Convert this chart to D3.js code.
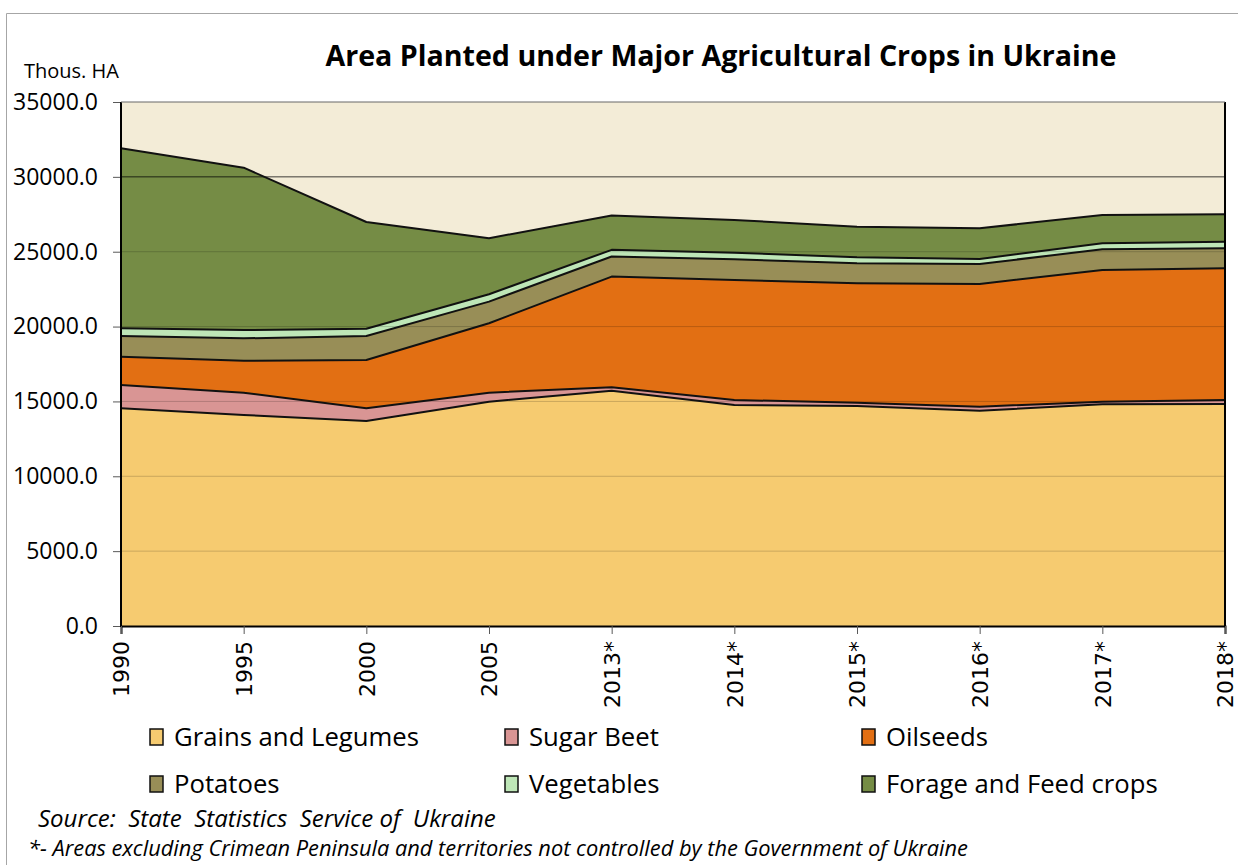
<!DOCTYPE html>
<html>
<head>
<meta charset="utf-8">
<script src="https://cdn.jsdelivr.net/npm/d3@7"></script>
<style>
  body { margin: 0; background: #fff; }
  svg { display: block; }
</style>
</head>
<body>
<div id="my_dataviz"></div>
<script>
// data (thous. ha)
const years = ["1990", "1995", "2000", "2005", "2013*", "2014*", "2015*", "2016*", "2017*", "2018*"];
const seriesNames = ["Grains and Legumes", "Sugar Beet", "Oilseeds", "Potatoes", "Vegetables", "Forage and Feed crops"];
const grains     = [14540, 14095, 13690, 14985, 15720, 14760, 14695, 14380, 14810, 14830];
const sugarBeet  = [1560, 1490, 850, 600, 230, 335, 220, 270, 175, 265];
const oilseeds   = [1890, 2135, 3230, 4635, 7390, 8015, 7975, 8195, 8795, 8800];
const potatoes   = [1380, 1495, 1600, 1445, 1340, 1380, 1335, 1335, 1385, 1335];
const vegetables = [515, 555, 490, 495, 445, 445, 400, 335, 400, 440];
const forage     = [12025, 10845, 7125, 3740, 2295, 2185, 2045, 2050, 1890, 1830];
const yTicks = [0, 5000, 10000, 15000, 20000, 25000, 30000, 35000];
const colors = ["#F6CB70", "#D99594", "#E26F13", "#988E57", "#BEE6B7", "#758C45"];

const drawChart = () => {
  const width = 1238, height = 865;
  const margin = { top: 102, right: 13, bottom: 239, left: 121 };
  const innerW = width - margin.left - margin.right;
  const innerH = height - margin.top - margin.bottom;

  const allSeries = [grains, sugarBeet, oilseeds, potatoes, vegetables, forage];
  const table = years.map((y, i) => {
    const row = { year: y };
    seriesNames.forEach((name, k) => { row[name] = allSeries[k][i]; });
    return row;
  });

  const svg = d3.select("#my_dataviz").append("svg")
    .attr("width", width).attr("height", height);

  // outer frame
  svg.append("path")
    .attr("d", `M6.5,${height} V13.5 H${width}`)
    .attr("fill", "none").attr("stroke", "#a6a6a6").attr("stroke-width", 1);

  const g = svg.append("g").attr("transform", `translate(${margin.left},${margin.top})`);

  const x = d3.scalePoint().domain(years).range([0, innerW]);
  const y = d3.scaleLinear().domain([0, 35000]).range([innerH, 0]);

  g.append("rect").attr("width", innerW).attr("height", innerH).attr("fill", "#F3ECD7");

  const stack = d3.stack().keys(seriesNames);
  const layers = stack(table);

  const area = d3.area()
    .x(d => x(d.data.year))
    .y0(d => y(d[0]))
    .y1(d => y(d[1]));
  const topLine = d3.line()
    .x(d => x(d.data.year))
    .y(d => y(d[1]));

  g.selectAll(".layer").data(layers).join("path")
    .attr("class", "layer")
    .attr("fill", (d, i) => colors[i])
    .attr("d", area);

  // gridlines over the areas, faint
  g.selectAll(".grid").data(yTicks.filter(t => t > 0)).join("line")
    .attr("class", "grid")
    .attr("x1", 0).attr("x2", innerW)
    .attr("y1", d => y(d)).attr("y2", d => y(d))
    .attr("stroke", "#000").attr("stroke-opacity", d => d === 30000 ? 0.75 : 0.18)
    .attr("stroke-width", 1);

  g.selectAll(".edge").data(layers).join("path")
    .attr("class", "edge")
    .attr("fill", "none").attr("stroke", "#111").attr("stroke-width", 2)
    .attr("stroke-linejoin", "round")
    .attr("d", topLine);

  // axes
  const yAxis = d3.axisLeft(y).tickValues(yTicks).tickFormat(d3.format(".1f")).tickSize(8).tickPadding(15);
  const ya = g.append("g").call(yAxis);
  ya.select(".domain").remove();
  ya.selectAll("line").attr("stroke", "#595959");
  ya.selectAll("text").attr("font-family", "Open Sans, sans-serif").attr("font-size", 23).attr("fill", "#000");

  g.append("line").attr("x1", 0).attr("x2", 0).attr("y1", 0).attr("y2", innerH + 1)
    .attr("stroke", "#000").attr("stroke-width", 2);
  g.append("line").attr("x1", innerW).attr("x2", innerW).attr("y1", 0).attr("y2", innerH)
    .attr("stroke", "#000").attr("stroke-width", 2);
  g.append("line").attr("x1", 0).attr("x2", innerW).attr("y1", 0).attr("y2", 0)
    .attr("stroke", "#7f7f7f").attr("stroke-width", 1);

  const xAxis = d3.axisBottom(x).tickSize(8).tickPadding(6);
  const xa = g.append("g").attr("transform", `translate(0,${innerH})`).call(xAxis);
  xa.select(".domain").attr("stroke", "#000").attr("stroke-width", 2);
  xa.selectAll("line").attr("stroke", "#595959");
  xa.selectAll("text")
    .attr("font-family", "DejaVu Sans, sans-serif").attr("font-size", 22).attr("fill", "#000")
    .attr("transform", "rotate(-90)")
    .attr("text-anchor", "end")
    .attr("x", -15).attr("y", 0).attr("dy", "0.35em");

  // title and unit label
  svg.append("text").attr("x", 721).attr("y", 66).attr("text-anchor", "middle")
    .attr("font-family", "Open Sans, sans-serif").attr("font-weight", "bold").attr("font-size", 28.6)
    .text("Area Planted under Major Agricultural Crops in Ukraine");
  svg.append("text").attr("x", 24).attr("y", 78)
    .attr("font-family", "Open Sans, sans-serif").attr("font-size", 20)
    .text("Thous. HA");

  // legend
  const legX = [150, 505, 862];
  const legY = [737, 784];
  const leg = svg.append("g").selectAll("g").data(seriesNames).join("g")
    .attr("transform", (d, i) => `translate(${legX[i % 3]},${legY[Math.floor(i / 3)]})`);
  leg.append("rect").attr("x", 0).attr("y", -8).attr("width", 13).attr("height", 16)
    .attr("fill", (d, i) => colors[i]).attr("stroke", "#111").attr("stroke-width", 1.5);
  leg.append("text").attr("x", 24).attr("dy", "0.35em")
    .attr("font-family", "Open Sans, sans-serif").attr("font-size", 25.7)
    .text(d => d);

  // notes
  svg.append("text").attr("x", 38).attr("y", 827)
    .attr("font-family", "Open Sans, sans-serif").attr("font-style", "italic").attr("font-size", 24)
    .attr("xml:space", "preserve")
    .text("Source:  State  Statistics  Service of  Ukraine");
  svg.append("text").attr("x", 28).attr("y", 856)
    .attr("font-family", "Open Sans, sans-serif").attr("font-style", "italic").attr("font-size", 21.8)
    .text("*- Areas excluding Crimean Peninsula and territories not controlled by the Government of Ukraine");
};

drawChart();
</script>
</body>
</html>
